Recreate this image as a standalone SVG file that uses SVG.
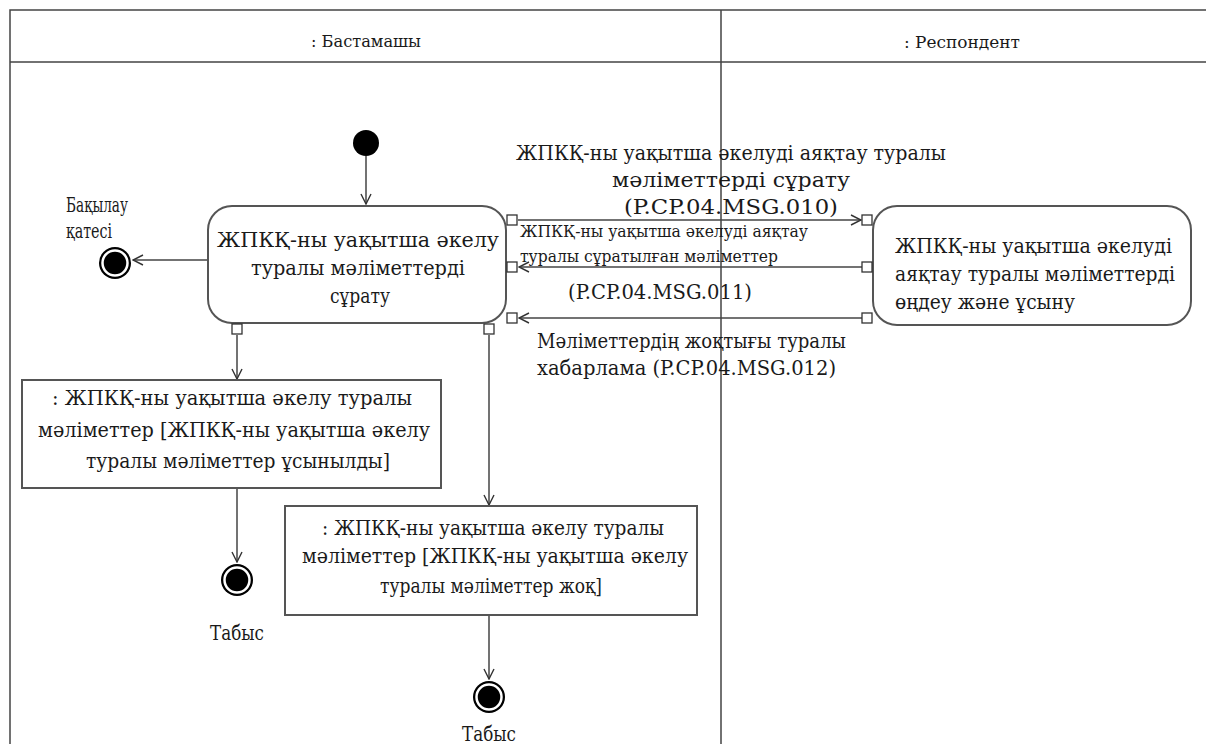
<svg xmlns="http://www.w3.org/2000/svg" width="1206" height="744" viewBox="0 0 1206 744">
<style>
text{font-family:"DejaVu Serif","Liberation Serif",serif;fill:#1a1a1a;}
.t{font-size:20px;}
.s{font-size:16px;}
.h{font-size:17px;}
.ln{stroke:#444;stroke-width:1.5;fill:none;}
.box{stroke:#555;stroke-width:2;fill:#fff;}
.pin{stroke:#333;stroke-width:1.3;fill:#fff;}
.c{text-anchor:middle;}
</style>
<defs>
<marker id="a" viewBox="0 0 12 12" refX="11" refY="6" markerWidth="12" markerHeight="12" markerUnits="userSpaceOnUse" orient="auto">
<path d="M1,1 L11,6 L1,11" fill="none" stroke="#333" stroke-width="1.4"/>
</marker>
</defs>
<rect width="1206" height="744" fill="#fff"/>
<g id="lanes">
<path class="ln" d="M10,744 V10 H1206 M10,62 H1206 M721,10 V744"/>
<text class="h c" x="366" y="47" textLength="110" lengthAdjust="spacingAndGlyphs">: Бастамашы</text>
<text class="h c" x="962" y="48" textLength="116" lengthAdjust="spacingAndGlyphs">: Респондент</text>
</g>
<g id="connectors">
<path class="ln" d="M366,156 V204" marker-end="url(#a)"/>
<path class="ln" d="M208,260 H133" marker-end="url(#a)"/>
<path class="ln" d="M518,220 H861" marker-end="url(#a)"/>
<path class="ln" d="M862,267 H519" marker-end="url(#a)"/>
<path class="ln" d="M862,318 H519" marker-end="url(#a)"/>
<path class="ln" d="M237,335 V379" marker-end="url(#a)"/>
<path class="ln" d="M489,335 V505" marker-end="url(#a)"/>
<path class="ln" d="M237,488 V562" marker-end="url(#a)"/>
<path class="ln" d="M489,615 V679" marker-end="url(#a)"/>
<text class="t c" x="731" y="160" textLength="430" lengthAdjust="spacingAndGlyphs">ЖПКҚ-ны уақытша әкелуді аяқтау туралы</text>
<text class="t c" x="731" y="187" textLength="238" lengthAdjust="spacingAndGlyphs">мәліметтерді сұрату</text>
<text class="t c" x="731" y="214" textLength="214" lengthAdjust="spacingAndGlyphs">(P.CP.04.MSG.010)</text>
<text class="s" x="520" y="237" textLength="288" lengthAdjust="spacingAndGlyphs">ЖПКҚ-ны уақытша әкелуді аяқтау</text>
<text class="s" x="520" y="262" textLength="258" lengthAdjust="spacingAndGlyphs">туралы сұратылған мәліметтер</text>
<text class="t c" x="660" y="299" textLength="184" lengthAdjust="spacingAndGlyphs">(P.CP.04.MSG.011)</text>
<text class="t" x="537" y="348" textLength="309" lengthAdjust="spacingAndGlyphs">Мәліметтердің жоқтығы туралы</text>
<text class="t" x="537" y="375" textLength="299" lengthAdjust="spacingAndGlyphs">хабарлама (P.CP.04.MSG.012)</text>
</g>
<g id="start"><circle cx="366" cy="143" r="13" fill="#000"/></g>
<g id="act1">
<rect class="box" x="208" y="206" width="298" height="117" rx="24"/>
<text class="t c" x="358" y="247" textLength="282" lengthAdjust="spacingAndGlyphs">ЖПКҚ-ны уақытша әкелу</text>
<text class="t c" x="358" y="275" textLength="214" lengthAdjust="spacingAndGlyphs">туралы мәліметтерді</text>
<text class="t c" x="360" y="303" textLength="60" lengthAdjust="spacingAndGlyphs">сұрату</text>
<rect class="pin" x="507" y="215" width="10" height="10"/>
<rect class="pin" x="507" y="262" width="10" height="10"/>
<rect class="pin" x="507" y="313" width="10" height="10"/>
<rect class="pin" x="232" y="324" width="10" height="10"/>
<rect class="pin" x="484" y="324" width="10" height="10"/>
</g>
<g id="act2">
<rect class="box" x="873" y="206" width="318" height="119" rx="24"/>
<text class="t" x="895" y="253" textLength="277" lengthAdjust="spacingAndGlyphs">ЖПКҚ-ны уақытша әкелуді</text>
<text class="t" x="895" y="281" textLength="280" lengthAdjust="spacingAndGlyphs">аяқтау туралы мәліметтерді</text>
<text class="t" x="895" y="309" textLength="180" lengthAdjust="spacingAndGlyphs">өңдеу және ұсыну</text>
<rect class="pin" x="862" y="215" width="10" height="10"/>
<rect class="pin" x="862" y="262" width="10" height="10"/>
<rect class="pin" x="862" y="313" width="10" height="10"/>
</g>
<g id="end-error">
<circle cx="115" cy="263" r="16" fill="#000"/>
<circle cx="115" cy="263" r="12.5" fill="none" stroke="#fff" stroke-width="2.5"/>
<text class="t" x="66" y="212" textLength="62" lengthAdjust="spacingAndGlyphs">Бақылау</text>
<text class="t" x="66" y="238" textLength="46" lengthAdjust="spacingAndGlyphs">қатесі</text>
</g>
<g id="obj1">
<rect class="box" x="22" y="380" width="419" height="108"/>
<text class="t c" x="232" y="405" textLength="360" lengthAdjust="spacingAndGlyphs">: ЖПКҚ-ны уақытша әкелу туралы</text>
<text class="t c" x="234" y="437" textLength="392" lengthAdjust="spacingAndGlyphs">мәліметтер [ЖПКҚ-ны уақытша әкелу</text>
<text class="t c" x="238" y="468" textLength="304" lengthAdjust="spacingAndGlyphs">туралы мәліметтер ұсынылды]</text>
</g>
<g id="end1">
<circle cx="237" cy="580" r="16" fill="#000"/>
<circle cx="237" cy="580" r="12.5" fill="none" stroke="#fff" stroke-width="2.5"/>
<text class="t c" x="237" y="640" textLength="54" lengthAdjust="spacingAndGlyphs">Табыс</text>
</g>
<g id="obj2">
<rect class="box" x="285" y="506" width="412" height="109"/>
<text class="t c" x="493" y="535" textLength="342" lengthAdjust="spacingAndGlyphs">: ЖПКҚ-ны уақытша әкелу туралы</text>
<text class="t c" x="495" y="563" textLength="386" lengthAdjust="spacingAndGlyphs">мәліметтер [ЖПКҚ-ны уақытша әкелу</text>
<text class="t c" x="491" y="593" textLength="222" lengthAdjust="spacingAndGlyphs">туралы мәліметтер жоқ]</text>
</g>
<g id="end2">
<circle cx="489" cy="697" r="16" fill="#000"/>
<circle cx="489" cy="697" r="12.5" fill="none" stroke="#fff" stroke-width="2.5"/>
<text class="t c" x="489" y="741" textLength="54" lengthAdjust="spacingAndGlyphs">Табыс</text>
</g>
</svg>
